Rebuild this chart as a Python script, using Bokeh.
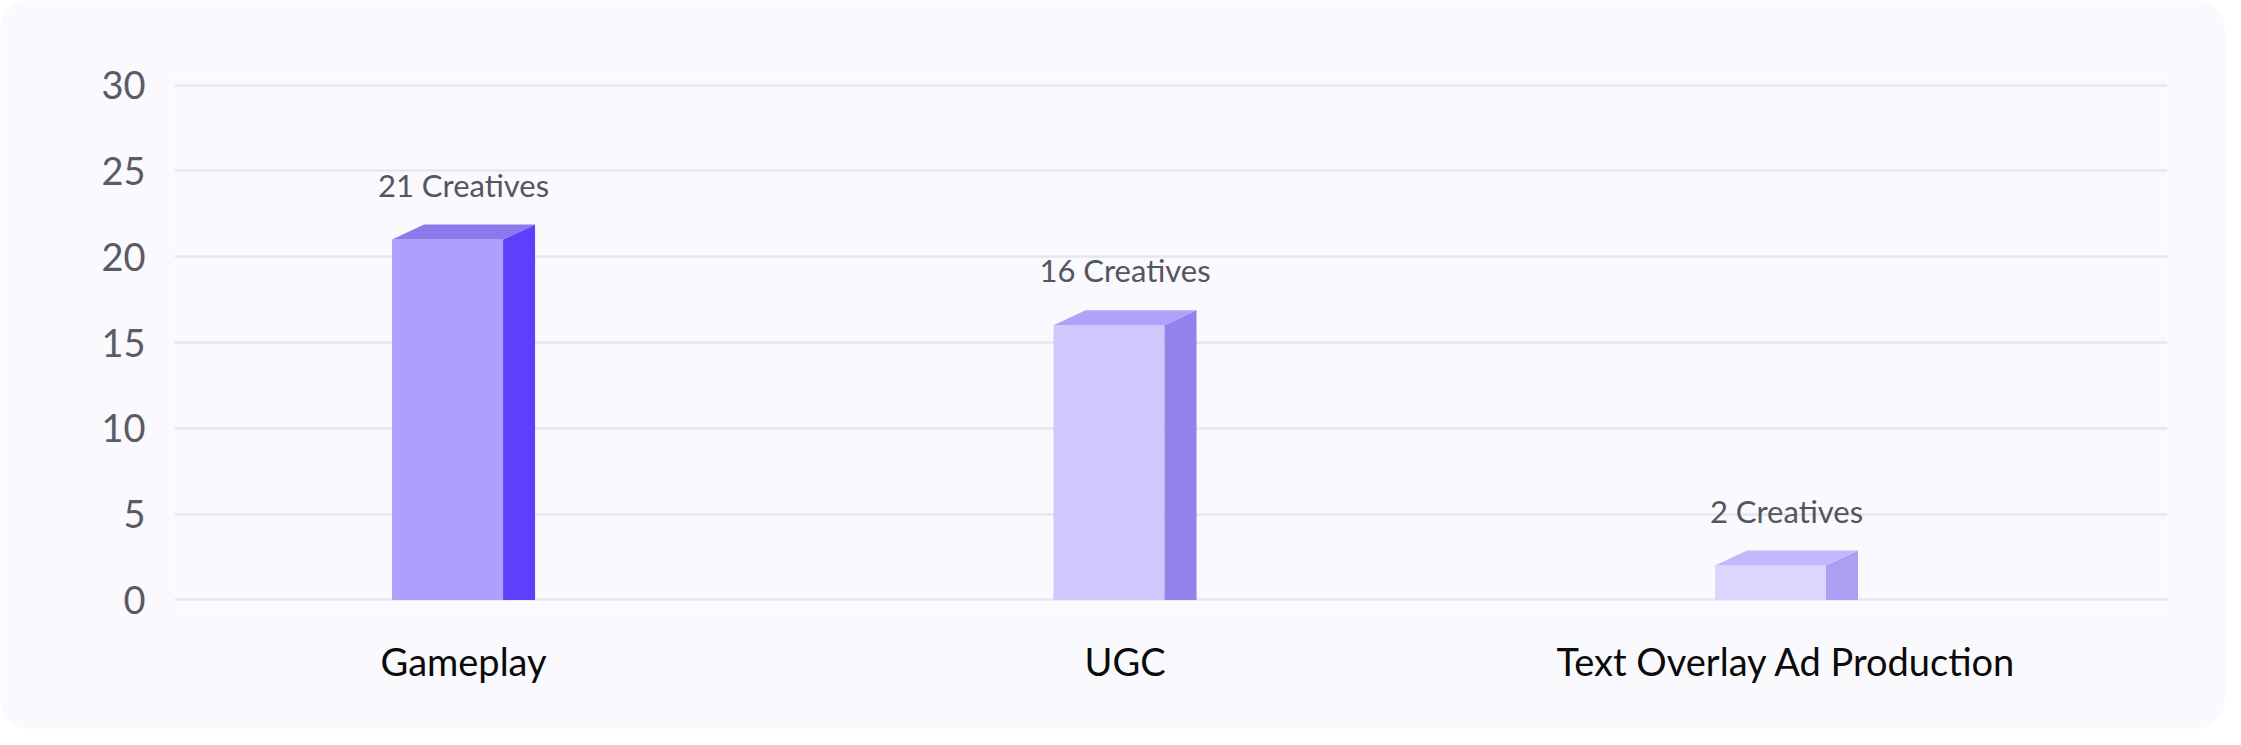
from bokeh.plotting import figure
from bokeh.models import Range1d, FixedTicker, ColumnDataSource
from bokeh.core.properties import value
from bokeh.embed import file_html
from bokeh.resources import INLINE

# ---- data ----
categories = ["Gameplay", "UGC", "Text Overlay Ad Production"]
creatives = [21, 16, 2]
y_ticks = [0, 5, 10, 15, 20, 25, 30]
front_colors = ["#ae9ffc", "#d0c8fd", "#dcd6fe"]
side_colors = ["#5f3ffc", "#9282ec", "#ab9ef3"]
top_colors = ["#8b78ea", "#b0a2fb", "#c4b8fc"]

# ---- layout / style ----
W, H = 2225, 729
BL, BR, BT, BB = 174, 58, 76, 121
X0, X1 = -0.437, 2.576
Y0, Y1 = -0.5, 30.5
frame_w = W - BL - BR
frame_h = H - BT - BB
px_x = frame_w / (X1 - X0)
px_y = frame_h / (Y1 - Y0)

FRONT_W = 111 / px_x
DX = 32 / px_x
DY = 15 / px_y
HALF = (111 + 32) / 2 / px_x

FONT = "Lato"
BG = "#faf9fe"

p = figure(width=W, height=H, x_range=Range1d(X0, X1), y_range=Range1d(Y0, Y1),
           output_backend="svg", toolbar_location=None,
           min_border_left=BL, min_border_right=BR, min_border_top=BT, min_border_bottom=BB)
p.background_fill_color = BG
p.border_fill_color = BG
p.outline_line_color = None
p.styles = {"border-radius": "30px", "overflow": "hidden"}

xs = list(range(len(categories)))

# front faces
fl = [x - HALF for x in xs]
fr = [a + FRONT_W for a in fl]
sr = [a + DX for a in fr]
p.quad(left=fl, right=fr, bottom=[0] * len(xs), top=creatives,
       fill_color=front_colors, line_color=None)

# side faces
side_xs = [[fr[i], sr[i], sr[i], fr[i]] for i in xs]
side_ys = [[0, 0, creatives[i] + DY, creatives[i]] for i in xs]
p.patches(side_xs, side_ys, fill_color=side_colors, line_color=None)

# top faces
top_xs = [[fl[i], fl[i] + DX, sr[i], fr[i]] for i in xs]
top_ys = [[creatives[i], creatives[i] + DY, creatives[i] + DY, creatives[i]] for i in xs]
p.patches(top_xs, top_ys, fill_color=top_colors, line_color=None)

# value labels
src = ColumnDataSource(dict(x=xs, y=creatives, t=[f"{v} Creatives" for v in creatives]))
p.text(x="x", y="y", text="t", source=src, text_align="center", text_baseline="alphabetic",
       y_offset=-55, text_font=value(FONT), text_font_size="31px", text_color="#55555e")

# grid
p.xgrid.visible = False
p.ygrid.ticker = FixedTicker(ticks=y_ticks)
p.ygrid.grid_line_color = "#e3e7f1"
p.ygrid.grid_line_width = 2.5
p.grid.level = "underlay"

# axes
p.yaxis.ticker = FixedTicker(ticks=y_ticks)
p.yaxis.axis_line_color = None
p.yaxis.major_tick_line_color = None
p.yaxis.minor_tick_line_color = None
p.yaxis.major_label_standoff = 23
p.yaxis.major_label_text_font = FONT
p.yaxis.major_label_text_font_size = "38px"
p.yaxis.major_label_text_color = "#5b5b66"

p.xaxis.ticker = FixedTicker(ticks=xs)
p.xaxis.major_label_overrides = {i: c for i, c in zip(xs, categories)}
p.xaxis.axis_line_color = None
p.xaxis.major_tick_line_color = None
p.xaxis.minor_tick_line_color = None
p.xaxis.major_label_standoff = 23
p.xaxis.major_label_text_font = FONT
p.xaxis.major_label_text_font_size = "38px"
p.xaxis.major_label_text_color = "#0a0a0a"

open("out.html", "w").write(file_html(p, INLINE))
